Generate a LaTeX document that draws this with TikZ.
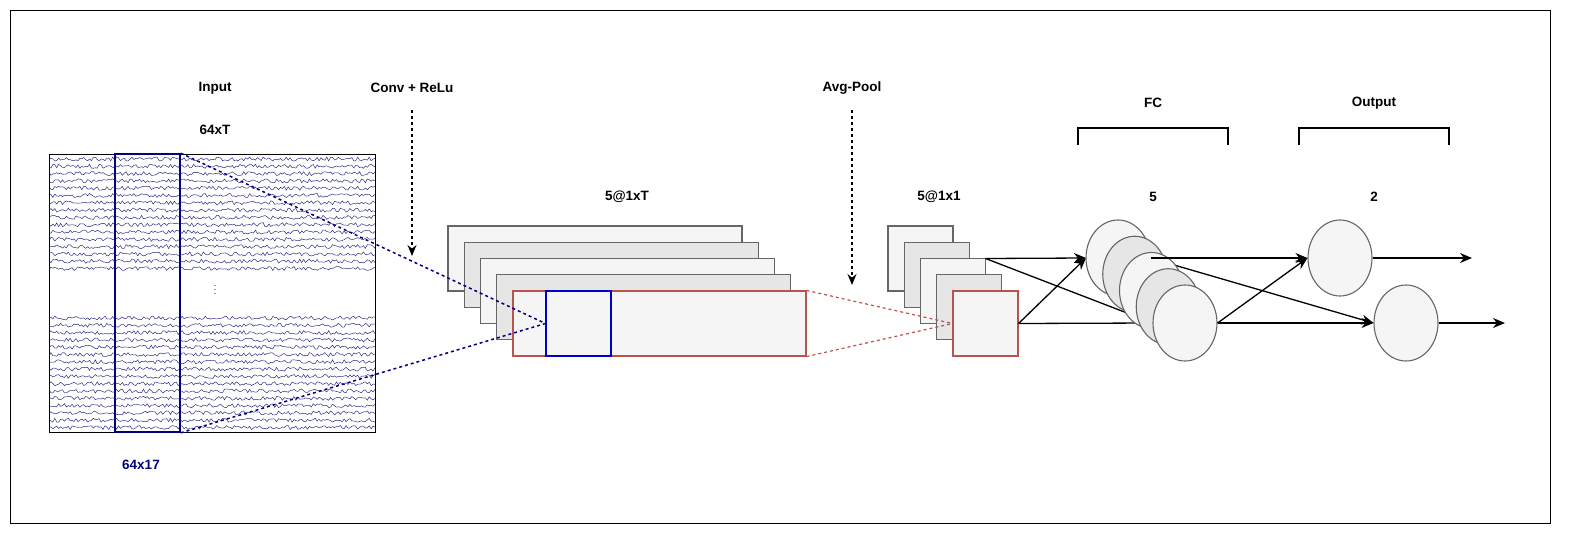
\documentclass[tikz,border=0pt]{standalone}
\usepackage{fontspec}
\setmainfont{Liberation Sans}
\usetikzlibrary{arrows.meta,shapes.geometric}
\definecolor{eeg}{HTML}{2E2E88}
\definecolor{navyb}{HTML}{000080}
\definecolor{redb}{HTML}{B85450}
\definecolor{fa}{HTML}{F5F5F5}
\definecolor{fb}{HTML}{E6E6E6}
\begin{document}
\begin{tikzpicture}[x=1pt,y=-1pt,
  lbl/.style={font=\bfseries\fontsize{13.5}{16}\selectfont},
  fmap/.style={draw=black!60,line width=1.1pt},
  neuron/.style={ellipse,draw=black!60,fill=fa,line width=1.1pt,minimum width=64pt,minimum height=76pt,inner sep=0},
  conn/.style={-{Stealth[length=12pt,width=10pt]},line width=1.3pt},
  darr/.style={-{Stealth[length=11pt,width=9pt]},dashed,line width=1.3pt},
  br/.style={line width=1.1pt}]
\useasboundingbox (0,0) rectangle (1595,545);
\draw[line width=0.8pt] (10,10) rectangle (1550,523);
% EEG
\begin{scope}
\clip (49,154) rectangle (375,432);
\pgfmathsetseed{7}
\foreach \i in {0,...,15}{
  \draw[eeg,line width=0.5pt] plot[domain=49:375,samples=170] (\x,{159+\i*7.3+2.0*rand});
  \draw[eeg,line width=0.5pt] plot[domain=49:375,samples=170] (\x,{318+\i*7.3+2.0*rand});
}
\end{scope}
\draw[line width=0.8pt] (49,154) rectangle (375,432);
\node[font=\small,align=center,inner sep=0] (dots) at (215,290) {.\\[-7pt].\\[-7pt].};
\node[draw=navyb,line width=1.6pt,minimum width=65pt,minimum height=278pt,inner sep=0] (col) at (147.5,293) {};
% feature maps
\foreach \k/\c in {0/fa,1/fb,2/fa,3/fb}{
  \draw[fmap,fill=\c] ({448+16.25*\k},{226+16.25*\k}) rectangle ++(294,65);
}
\node[draw=redb,fill=fa,line width=1.1pt,minimum width=293pt,minimum height=65pt,inner sep=0] (big) at (659.5,323.5) {};
\node[draw=blue!80!black,line width=1.1pt,minimum width=65pt,minimum height=65pt,inner sep=0] (win) at (578.5,323.5) {};
\draw[navyb,dashed,line width=1.5pt] (col.north east) -- (win.west);
\draw[navyb,dashed,line width=1.5pt] (col.south east) -- (win.west);
% small maps
\foreach \k/\c in {0/fa,1/fb,2/fa,3/fb}{
  \draw[fmap,fill=\c] ({888+16.25*\k},{226+16.25*\k}) rectangle ++(65,65);
}
\coordinate (r3) at (985.5,258.5);
\node[draw=redb,fill=fa,line width=1.1pt,minimum width=65pt,minimum height=65pt,inner sep=0] (sq) at (985.5,323.5) {};
\draw[redb,dashed,line width=1.2pt] (big.north east) -- (sq.west);
\draw[redb,dashed,line width=1.2pt] (big.south east) -- (sq.west);
% neuron coordinates
\node[neuron] (o1) at (1340,258) {};
\node[neuron] (o2) at (1406,323) {};
\coordinate (e1) at (1472,258);
\coordinate (e2) at (1505,323);
\coordinate (n1w) at (1086,258);
\coordinate (n5w) at (1153,323);
\coordinate (n1e) at (1150,258);
% connections behind
\draw[conn] (r3) -- (n1w);
\draw[conn] (r3) -- (n5w);
\draw[conn] (sq.east) -- (n1w);
\draw[conn] (sq.east) -- (n5w);
\draw[conn] (n1e) -- (o2.west);
% neurons
\node[neuron] (c1) at (1118,258) {};
\node[neuron,fill=fb] (c2) at (1134.75,274.25) {};
\node[neuron] (c3) at (1151.5,290.5) {};
\node[neuron,fill=fb] (c4) at (1168.25,306.75) {};
\node[neuron] (c5) at (1185,323) {};
\draw[conn] (c1.east) -- (o1.west);
\draw[conn] (c5.east) -- (o1.west);
\draw[conn] (c5.east) -- (o2.west);
\draw[conn] (o1.east) -- (e1);
\draw[conn] (o2.east) -- (e2);
% labels
\node[lbl] (tin) at (215,88) {Input};
\node[lbl] (t64) at (215,130) {64xT};
\node[lbl] (tconv) at (412,88) {Conv + ReLu};
\coordinate (ca) at (412,256);
\coordinate (cb) at (412,110);
\draw[darr] (cb) -- (ca);
\node[lbl] (tpool) at (852,88) {Avg-Pool};
\coordinate (pa) at (852,285);
\coordinate (pb) at (852,110);
\draw[darr] (pb) -- (pa);
\node[lbl] (t5t) at (627,197) {5@1xT};
\node[lbl] (t511) at (939,197) {5@1x1};
\node[lbl] (tfc) at (1153,103) {FC};
\node[lbl] (tout) at (1374,103) {Output};
\node[lbl] (t5) at (1153,197) {5};
\node[lbl] (t2) at (1374,197) {2};
\node[lbl,text=navyb] (t6417) at (141,465) {64x17};
\draw[br] (1078,145) -- (1078,128) -- (1228,128) -- (1228,145);
\draw[br] (1299,145) -- (1299,128) -- (1449,128) -- (1449,145);
\end{tikzpicture}
\end{document}
